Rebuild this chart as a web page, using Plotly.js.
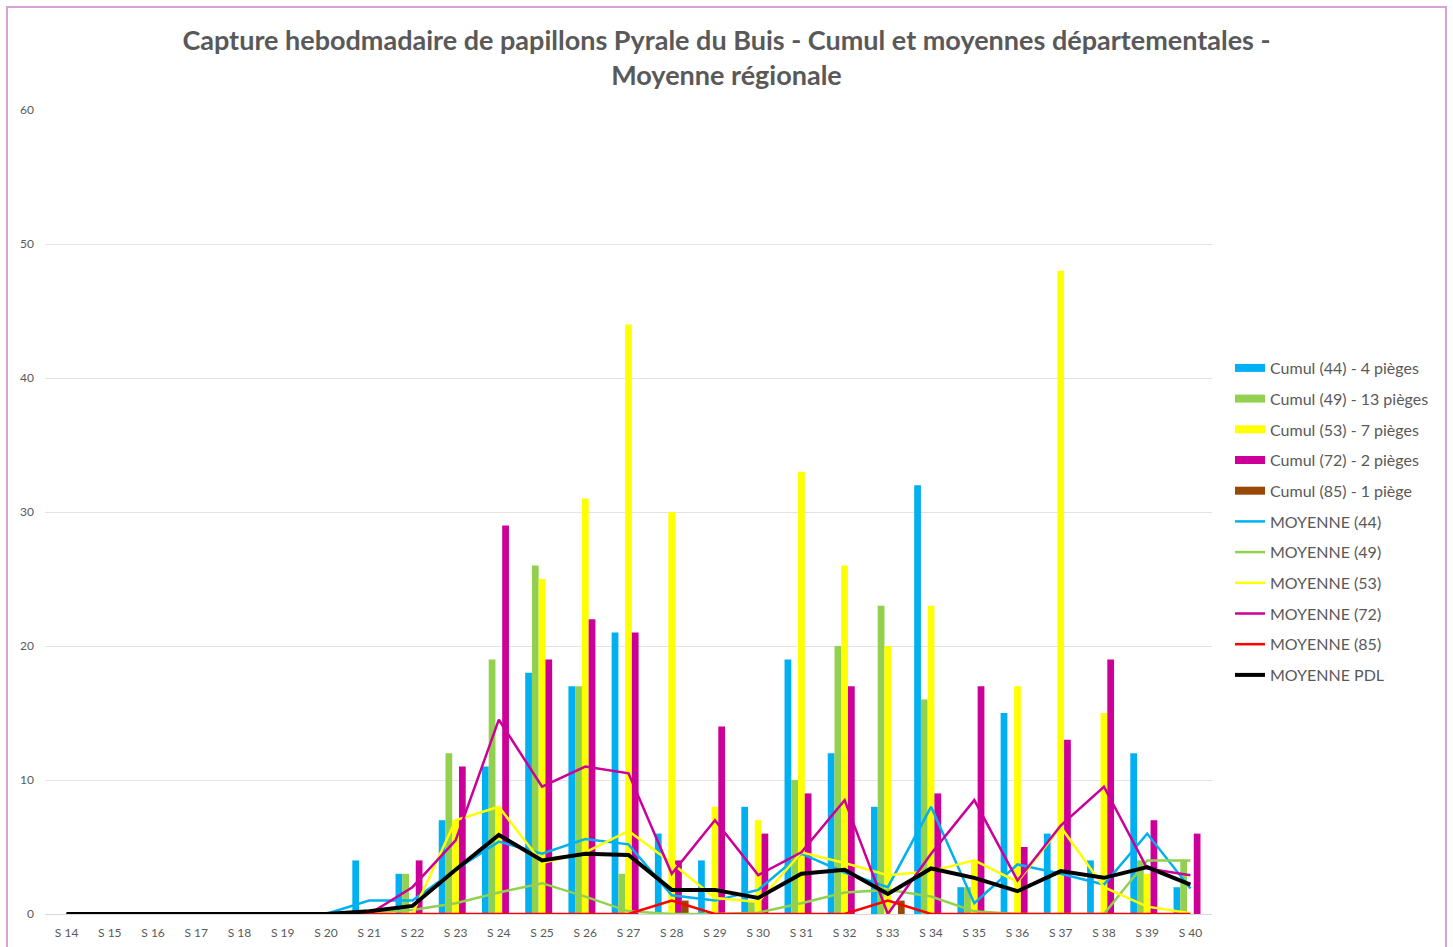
<!DOCTYPE html>
<html>
<head>
<meta charset="utf-8">
<script src="https://cdn.plot.ly/plotly-3.0.1.min.js"></script>
<style>
  html, body { margin: 0; padding: 0; background: #ffffff; overflow: hidden; }
  #chart { width: 1453px; height: 947px; }
  #frame { position: absolute; left: 6px; top: 6px; width: 1437px; height: 960px;
           border: 2px solid #D6A3D6; pointer-events: none; }
</style>
</head>
<body>
<div id="chart"></div>
<div id="frame"></div>
<script>
const weeks = ["S 14","S 15","S 16","S 17","S 18","S 19","S 20","S 21","S 22","S 23","S 24","S 25","S 26","S 27",
               "S 28","S 29","S 30","S 31","S 32","S 33","S 34","S 35","S 36","S 37","S 38","S 39","S 40"];

const cumul44 = [0,0,0,0,0,0,0, 4, 3, 7,11,18,17,21, 6, 4, 8,19,12, 8,32, 2,15, 6, 4,12, 2];
const cumul49 = [0,0,0,0,0,0,0, 0, 3,12,19,26,17, 3, 0, 0, 1,10,20,23,16, 2, 0, 0, 0, 4, 4];
const cumul53 = [0,0,0,0,0,0,0, 0, 0, 7, 8,25,31,44,30, 8, 7,33,26,20,23, 4,17,48,15, 3, 0];
const cumul72 = [0,0,0,0,0,0,0, 0, 4,11,29,19,22,21, 4,14, 6, 9,17, 0, 9,17, 5,13,19, 7, 6];
const cumul85 = [0,0,0,0,0,0,0, 0, 0, 0, 0, 0, 0, 0, 1, 0, 0, 0, 0, 1, 0, 0, 0, 0, 0, 0, 0];

const moy44  = [0,0,0,0,0,0,0, 1.0, 1.0, 3.3, 5.4, 4.5, 5.6, 5.2, 1.4, 1.0, 1.8, 4.5, 3.1, 2.0, 8.0, 0.8, 3.7, 3.0, 2.2, 6.0, 1.9];
const moy49  = [0,0,0,0,0,0,0, 0.1, 0.3, 0.8, 1.6, 2.3, 1.3, 0.2, 0.0, 0.0, 0.1, 0.8, 1.6, 1.8, 1.3, 0.2, 0.0, 0.0, 0.0, 4.0, 4.0];
const moy53  = [0,0,0,0,0,0,0, 0.0, 0.0, 7.0, 8.0, 3.8, 4.6, 6.2, 3.8, 1.2, 0.9, 4.6, 3.8, 2.9, 3.2, 4.0, 2.4, 6.5, 2.0, 0.55, 0.05];
const moy72  = [0,0,0,0,0,0,0, 0.0, 2.0, 5.5,14.5, 9.5,11.0,10.5, 3.0, 7.0, 2.9, 4.6, 8.5, 0.0, 4.5, 8.5, 2.5, 6.6, 9.5, 3.4, 2.9];
const moy85  = [0,0,0,0,0,0,0, 0, 0, 0, 0, 0, 0, 0, 1, 0, 0, 0, 0, 1, 0, 0, 0, 0, 0, 0, 0];
const moyPDL = [0,0,0,0,0,0,0, 0.2, 0.6, 3.3, 5.9, 4.0, 4.5, 4.4, 1.8, 1.8, 1.2, 3.0, 3.3, 1.5, 3.4, 2.7, 1.7, 3.2, 2.7, 3.5, 2.2];

const barNames = ["Cumul (44) - 4 pièges","Cumul (49) - 13 pièges","Cumul (53) - 7 pièges","Cumul (72) - 2 pièges","Cumul (85) - 1 piège"];
const lineNames = ["MOYENNE (44)","MOYENNE (49)","MOYENNE (53)","MOYENNE (72)","MOYENNE (85)","MOYENNE PDL"];
const barColors = ["#00B0F0","#92D050","#FFFF00","#CC0099","#984807"];
const lineColors = ["#00B0F0","#92D050","#FFFF00","#CC0099","#FF0000","#000000"];
const barData = [cumul44, cumul49, cumul53, cumul72, cumul85];
const lineData = [moy44, moy49, moy53, moy72, moy85, moyPDL];

const traces = [];
barData.forEach((d, i) => {
  traces.push({ type: "bar", name: barNames[i], x: weeks, y: d, legendgroup: "b" + i,
                showlegend: false, marker: { color: barColors[i] }, hoverinfo: "x+y+name" });
  // legend stand-in drawn as a wide thick bar
  traces.push({ type: "scatter", mode: "lines", name: barNames[i], x: [null], y: [null],
                legendgroup: "b" + i, showlegend: true,
                line: { color: barColors[i], width: 8 } });
});
lineData.forEach((d, i) => {
  traces.push({ type: "scatter", mode: "lines", name: lineNames[i], x: weeks, y: d,
                legendgroup: "l" + i,
                line: { color: lineColors[i], width: i === 5 ? 4 : 2.5 } });
});

const layout = {
  width: 1453, height: 947,
  paper_bgcolor: "#ffffff", plot_bgcolor: "#ffffff",
  font: { family: "Lato, 'Open Sans', sans-serif", color: "#595959" },
  margin: { l: 45, r: 241, t: 110, b: 33, pad: 0 },
  title: {
    text: "<b>Capture hebodmadaire de papillons Pyrale du Buis - Cumul et moyennes départementales -<br>Moyenne régionale</b>",
    font: { family: "Lato, 'Open Sans', sans-serif", size: 27, color: "#595959" },
    x: 0.5, xref: "container", xanchor: "center",
    y: 1 - 50 / 947, yref: "container", yanchor: "top"
  },
  barmode: "group",
  bargap: 0.22,
  bargroupgap: 0,
  xaxis: {
    type: "category", categoryorder: "array", categoryarray: weeks,
    range: [-0.5, 26.5], showgrid: false, zeroline: false,
    showline: true, linecolor: "#D9D9D9", linewidth: 1,
    ticks: "", tickfont: { size: 12, color: "#595959" }, ticklabelstandoff: 8,
    fixedrange: true
  },
  yaxis: {
    range: [0, 60], tickvals: [0,10,20,30,40,50,60],
    showgrid: true, gridcolor: "#E3E3E3", gridwidth: 1, zeroline: false,
    showline: false, ticks: "", tickfont: { size: 12, color: "#595959" },
    ticklabelstandoff: 10, fixedrange: true
  },
  showlegend: true,
  legend: {
    x: (1230 - 45) / 1167, xanchor: "left",
    y: (914 - 351) / 804, yanchor: "top",
    font: { size: 16, color: "#595959" },
    tracegroupgap: 6.9, itemwidth: 30, traceorder: "grouped",
    bgcolor: "rgba(0,0,0,0)"
  }
};

Plotly.newPlot("chart", traces, layout, { displayModeBar: false, staticPlot: true });
</script>
</body>
</html>
